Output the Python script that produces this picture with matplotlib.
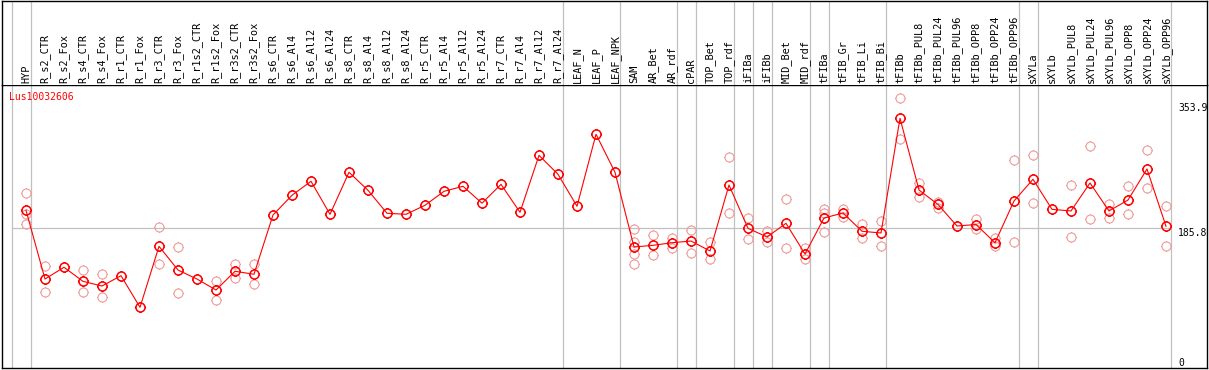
import numpy as np
import matplotlib
matplotlib.use('Agg')
from matplotlib import pyplot as plt
from matplotlib.path import Path
from matplotlib import transforms

gene = 'Lus10032606'

samples = ['HYP', 'R_s2_CTR', 'R_s2_Fox', 'R_s4_CTR', 'R_s4_Fox', 'R_r1_CTR', 'R_r1_Fox',
	'R_r3_CTR', 'R_r3_Fox', 'R_r1s2_CTR', 'R_r1s2_Fox', 'R_r3s2_CTR', 'R_r3s2_Fox',
	'R_s6_CTR', 'R_s6_Al4', 'R_s6_Al12', 'R_s6_Al24', 'R_s8_CTR', 'R_s8_Al4', 'R_s8_Al12',
	'R_s8_Al24', 'R_r5_CTR', 'R_r5_Al4', 'R_r5_Al12', 'R_r5_Al24', 'R_r7_CTR', 'R_r7_Al4',
	'R_r7_Al12', 'R_r7_Al24', 'LEAF_N', 'LEAF_P', 'LEAF_NPK', 'SAM', 'AR_Bet', 'AR_rdf',
	'cPAR', 'TOP_Bet', 'TOP_rdf', 'iFIBa', 'iFIBb', 'MID_Bet', 'MID_rdf', 'tFIBa',
	'tFIB_Gr', 'tFIB_Li', 'tFIB_Bi', 'tFIBb', 'tFIBb_PUL8', 'tFIBb_PUL24', 'tFIBb_PUL96',
	'tFIBb_OPP8', 'tFIBb_OPP24', 'tFIBb_OPP96', 'sXYLa', 'sXYLb', 'sXYLb_PUL8',
	'sXYLb_PUL24', 'sXYLb_PUL96', 'sXYLb_OPP8', 'sXYLb_OPP24', 'sXYLb_OPP96']

# number of samples in each tissue group (separated by grey lines)
group_sizes = [1, 28, 3, 3, 1, 2, 1, 1, 2, 1, 3, 7, 1, 7]

means = [210.0, 117.6, 133.4, 114.5, 108.2, 122.1, 79.6, 161.6, 129.7, 117.6, 102.8, 128.0,
	124.0, 203.7, 230.2, 249.0, 204.6, 261.1, 236.9, 206.0, 204.6, 216.7, 235.5, 242.3,
	219.5, 244.9, 207.3, 283.9, 258.4, 215.4, 312.2, 261.1, 160.7, 162.9, 166.4, 168.7,
	155.3, 244.0, 185.8, 174.1, 192.5, 151.2, 199.6, 206.4, 181.8, 179.5, 333.7, 237.3,
	217.8, 188.9, 190.9, 166.4, 222.5, 251.7, 211.3, 209.1, 246.7, 209.1, 223.8, 265.5,
	188.5]

replicates = [
	[232.8, 204.6, 191.2], [134.7, 99.8], [], [129.7, 99.8], [124.0, 93.0], [], [],
	[187.1, 137.4], [160.3, 98.4], [], [114.5, 89.0], [137.8, 118.6], [137.8, 110.5],
	[], [], [], [], [], [], [], [], [], [], [], [], [], [], [], [], [], [], [],
	[184.5, 167.8, 151.6, 137.4], [176.4, 149.5], [173.2, 159.7], [183.5, 152.2],
	[167.4, 144.1], [281.7, 206.0], [199.2, 171.4], [182.6, 167.0], [224.8, 159.3],
	[158.9, 144.9], [211.7, 206.8, 180.4], [211.7, 201.4], [191.6, 172.4], [195.6, 161.6],
	[360.6, 305.4], [246.3, 227.5], [221.2, 213.5], [], [198.3, 184.5], [173.2, 162.0],
	[277.2, 167.4], [284.3, 219.4], [], [244.0, 174.1], [296.4, 198.3], [218.5, 199.2],
	[242.7, 205.0], [290.7, 239.6], [215.4, 161.6]]

y_ticks = [0, 185.8, 353.9]
y_tick_labels = ['0', '185.8', '353.9']

W, H = 1209, 370

def spiky_circle():
	# open circle with four small ticks, like the original web plot
	circ = Path.unit_circle()
	ticks = []
	for a in (0, 90, 180, 270):
		r = np.deg2rad(a)
		ticks.append(Path([[np.cos(r), np.sin(r)], [1.22*np.cos(r), 1.22*np.sin(r)]],
			[Path.MOVETO, Path.LINETO]))
	return Path.make_compound_path(circ, *ticks)

def main():
	plt.rcParams['font.family'] = 'DejaVu Sans Mono'
	fig = plt.figure(figsize=(W/100, H/100), dpi=100)
	ax = fig.add_axes([2/W, 1 - 368/H, 1205/W, 283/H])
	axl = fig.add_axes([2/W, 1 - 85/H, 1205/W, 84.5/H], sharex=ax)

	x = np.arange(len(samples))
	xlim = ((2 - 26)/19, (1207 - 26)/19)

	# group separators
	bounds = [-1 + 0.24]
	last = -1
	for g in group_sizes:
		last += g
		bounds.append(last + 0.24)
	for b in bounds:
		ax.axvline(b, color='#c0c0c0', lw=0.9, zorder=1)
		axl.axvline(b, color='#c0c0c0', lw=0.9, zorder=1)
	ax.plot([bounds[0], bounds[-1]], [185.8, 185.8], color='#c0c0c0', lw=0.9, zorder=1)

	marker = spiky_circle()
	rx = [i for i, r in enumerate(replicates) for _ in r]
	ry = [v for r in replicates for v in r]
	ax.plot(rx, ry, ls='none', marker=marker, ms=7.9, mfc='none', mec='#f09a9a', mew=0.8, zorder=2)
	ax.plot(x, means, color='#ff0000', lw=0.8, zorder=3)
	ax.plot(x, means, ls='none', marker=marker, ms=7.9, mfc='none', mec='#ff0000', mew=1.1, zorder=4)

	ax.set_xlim(*xlim)
	ax.set_ylim((366.5 - 368)*1.3444, (366.5 - 85)*1.3444)
	ax.set_xticks([])
	ax.set_yticks([])
	for s in ax.spines.values():
		s.set_color('black')
		s.set_linewidth(1.0)

	trans = transforms.blended_transform_factory(ax.transAxes, ax.transData)
	for v, lab in zip(y_ticks, y_tick_labels):
		va = 'baseline' if v == 0 else 'top'
		ax.text((1178 - 2)/1205, v, lab, transform=trans, ha='left', va=va, fontsize=7, color='black')

	ax.text(7/1205, 1 - 7/283, gene, transform=ax.transAxes, ha='left', va='top',
		fontsize=7, color='#ff0000')

	axl.set_ylim(0, 1)
	axl.set_yticks([])
	axl.tick_params(bottom=False, labelbottom=False)
	for s in axl.spines.values():
		s.set_color('black')
		s.set_linewidth(1.0)
	axl.spines['bottom'].set_visible(False)
	for i, lab in enumerate(samples):
		axl.text(i, 2/84.5, lab, rotation=90, ha='center', va='bottom', fontsize=7.4, color='black')

	fig.savefig('out.png', dpi=100)

if __name__ == "__main__":
	main()
